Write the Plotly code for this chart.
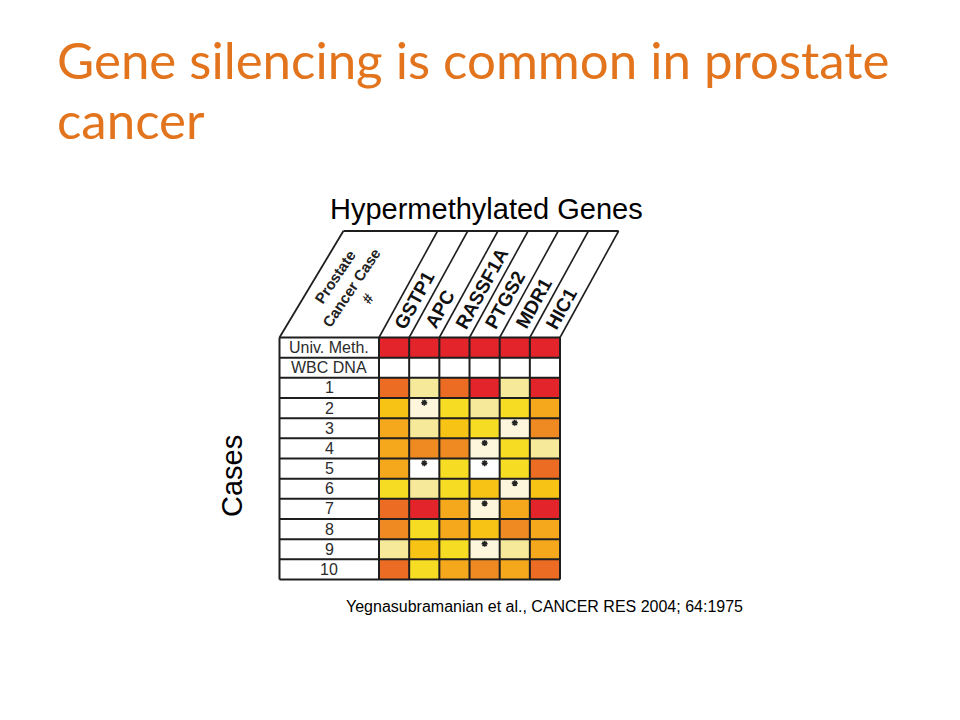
import math
import plotly.graph_objects as go

# ---------------- data ----------------
GENES = ["GSTP1", "APC", "RASSF1A", "PTGS2", "MDR1", "HIC1"]
ROWS = ["Univ. Meth.", "WBC DNA", "1", "2", "3", "4", "5", "6", "7", "8", "9", "10"]
# methylation level per cell (0 = none ... 8 = fully methylated)
LEVEL_UNIV = [8, 8, 8, 8, 8, 8]
LEVEL_WBC = [0, 0, 0, 0, 0, 0]
LEVEL_1 = [7, 2, 7, 8, 2, 8]
LEVEL_2 = [4, 1, 3, 2, 3, 5]
LEVEL_3 = [5, 2, 4, 3, 1, 6]
LEVEL_4 = [5, 6, 6, 1, 3, 2]
LEVEL_5 = [5, 0, 3, 0, 3, 7]
LEVEL_6 = [3, 2, 3, 4, 1, 4]
LEVEL_7 = [7, 8, 5, 1, 5, 8]
LEVEL_8 = [6, 3, 5, 4, 6, 5]
LEVEL_9 = [2, 4, 3, 1, 2, 5]
LEVEL_10 = [7, 3, 5, 6, 5, 7]
LEVELS = [LEVEL_UNIV, LEVEL_WBC, LEVEL_1, LEVEL_2, LEVEL_3, LEVEL_4, LEVEL_5,
          LEVEL_6, LEVEL_7, LEVEL_8, LEVEL_9, LEVEL_10]
# cells flagged with an asterisk (row label, gene)
STARS = [("2", "APC"), ("3", "MDR1"), ("4", "PTGS2"), ("5", "APC"), ("5", "PTGS2"),
         ("6", "MDR1"), ("7", "PTGS2"), ("9", "PTGS2")]

TITLE_LINES = ["Gene silencing is common in prostate", "cancer"]
HEADER = "Hypermethylated Genes"
CORNER = "Prostate<br>Cancer Case<br>#"
YLABEL = "Cases"
SOURCE = "Yegnasubramanian et al., CANCER RES 2004; 64:1975"

# ---------------- styles / geometry ----------------
PALETTE = ["#ffffff", "#fdf6dc", "#f7e99a", "#f6dc22", "#f7c416",
           "#f5a81c", "#ef8a22", "#ec6c23", "#e3242b"]
W, H = 960, 720
COL_W, ROW_H = 30.17, 20.17
X0, Y0 = 379.0, 337.5          # pixel of left edge of first gene column / top of first row
LABEL_LEFT_PX = 279.5
HEADER_TOP_PX = 231.0
SHEAR = 0.55                   # horizontal px per vertical px in the header
LINE = "#1e1e1e"
FONT = "Liberation Sans, Arial, sans-serif"


def u(px):
    return (px - X0) / COL_W - 0.5


def v(py):
    return (py - Y0) / ROW_H - 0.5


def pxu(uu):
    return X0 + (uu + 0.5) * COL_W


ncol, nrow = len(GENES), len(ROWS)

# discrete colourscale
n = len(PALETTE)
cs = []
for k, c in enumerate(PALETTE):
    cs.append([k / n, c])
    cs.append([(k + 1) / n, c])

fig = go.Figure()
fig.add_trace(go.Heatmap(
    z=LEVELS, x=list(range(ncol)), y=list(range(nrow)),
    colorscale=cs, zmin=-0.5, zmax=n - 0.5, showscale=False, hoverinfo="skip",
))
fig.add_trace(go.Scatter(
    x=[GENES.index(g) for r, g in STARS],
    y=[ROWS.index(r) - 0.27 for r, g in STARS],
    mode="markers",
    marker=dict(symbol="asterisk-open", size=5, color="#222222",
                line=dict(width=1.5, color="#222222")),
    hoverinfo="skip", showlegend=False,
))

shapes = []
label_left = u(LABEL_LEFT_PX)
for k in range(nrow + 1):
    shapes.append(dict(type="line", xref="x", yref="y", x0=label_left, x1=ncol - 0.5,
                       y0=k - 0.5, y1=k - 0.5, line=dict(color=LINE, width=2)))
for xx in [label_left] + [i - 0.5 for i in range(ncol + 1)]:
    shapes.append(dict(type="line", xref="x", yref="y", x0=xx, x1=xx,
                       y0=-0.5, y1=nrow - 0.5, line=dict(color=LINE, width=2)))
# sheared header
vt = v(HEADER_TOP_PX)
hdr_h = Y0 - HEADER_TOP_PX
for i in range(ncol + 1):
    xb = i - 0.5
    shapes.append(dict(type="line", xref="x", yref="y", x0=xb, y0=-0.5,
                       x1=u(pxu(xb) + SHEAR * hdr_h), y1=vt,
                       line=dict(color=LINE, width=1.6)))
left_top = u(LABEL_LEFT_PX + 0.6 * hdr_h)
right_top = u(pxu(ncol - 0.5) + SHEAR * hdr_h)
shapes.append(dict(type="line", xref="x", yref="y", x0=label_left, y0=-0.5,
                   x1=left_top, y1=vt, line=dict(color=LINE, width=1.8)))
shapes.append(dict(type="line", xref="x", yref="y", x0=left_top, y0=vt,
                   x1=right_top, y1=vt, line=dict(color=LINE, width=2.2)))

ann = []
# row labels
for r, lab in enumerate(ROWS):
    ann.append(dict(x=(label_left - 0.5) / 2, y=r, xref="x", yref="y", text=lab,
                    xanchor="center", yanchor="middle",
                    showarrow=False, font=dict(family=FONT, size=16, color="#2b2b2b")))

# gene labels along the sheared columns
BW = {"G": .778, "S": .667, "T": .611, "P": .667, "1": .556, "A": .722, "C": .722,
      "R": .722, "F": .611, "M": .833, "D": .722, "H": .722, "I": .278, "2": .556}
GFS = 19
ang = 61.2
ca, sa = math.cos(math.radians(ang)), math.sin(math.radians(ang))
for i, g in enumerate(GENES):
    L = sum(BW.get(ch, .65) for ch in g) * GFS
    cy = 332 - (L / 2) * sa - 0.5 * GFS * 1.1 * ca
    cx = pxu(i) + SHEAR * (Y0 - cy)
    ann.append(dict(x=u(cx), y=v(cy), xref="x", yref="y", text="<b>%s</b>" % g,
                    textangle=-ang, showarrow=False, xanchor="center", yanchor="middle",
                    font=dict(family=FONT, size=GFS, color="#111111")))

ann.append(dict(x=u(351), y=v(288), xref="x", yref="y", text="<b>%s</b>" % CORNER,
                textangle=-56, showarrow=False, xanchor="center", yanchor="middle",
                font=dict(family=FONT, size=15, color="#222222")))


def pann(text, xp, yp, size, color="#000000", family=FONT, angle=0, xa="center", ya="middle"):
    ann.append(dict(x=xp / W, y=1 - yp / H, xref="paper", yref="paper", text=text,
                    xanchor=xa, yanchor=ya, textangle=angle, showarrow=False,
                    font=dict(family=family, size=size, color=color)))


TFONT = "Lato, Carlito, Calibri, sans-serif"
pann(TITLE_LINES[0], 55, 59, 51, "#e3741e", TFONT, xa="left")
pann(TITLE_LINES[1], 55, 120, 51, "#e3741e", TFONT, xa="left")
pann(HEADER, 486, 209, 29)
pann(YLABEL, 232, 476, 29, angle=-90)
pann(SOURCE, 544.5, 606, 16)

xl, xr = 274.0, 628.0
yb, yt = 584.0, 226.0
fig.update_layout(
    width=W, height=H, margin=dict(l=0, r=0, t=0, b=0),
    paper_bgcolor="white", plot_bgcolor="white",
    xaxis=dict(domain=[xl / W, xr / W], range=[u(xl), u(xr)], visible=False, fixedrange=True),
    yaxis=dict(domain=[1 - yb / H, 1 - yt / H], range=[v(yb), v(yt)], visible=False, fixedrange=True),
    shapes=shapes, annotations=ann, showlegend=False,
)
fig.write_html("out.html", config={"displayModeBar": False, "staticPlot": True},
               post_script="document.body.style.margin='0px';")
